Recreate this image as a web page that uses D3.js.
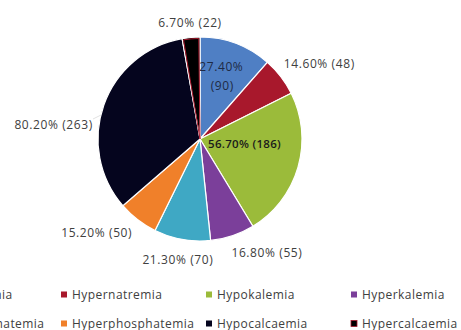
<!DOCTYPE html>
<html>
<head>
<meta charset="utf-8">
<script src="https://cdn.jsdelivr.net/npm/d3@7"></script>
<style>
  html, body { margin: 0; padding: 0; background: #fff; }
  svg { display: block; }
  text { font-family: "Open Sans", "DejaVu Sans", sans-serif; fill: #404040; }
</style>
</head>
<body>
<svg id="chart" width="461" height="330"></svg>
<script>
// Electrolyte disturbances: counts and printed percentages
const categories = ["Hyponatremia", "Hypernatremia", "Hypokalemia", "Hyperkalemia",
                    "Hypophosphatemia", "Hyperphosphatemia", "Hypocalcaemia", "Hypercalcaemia"];
const counts = [90, 48, 186, 55, 70, 50, 263, 22];
const percents = ["27.40%", "14.60%", "56.70%", "16.80%", "21.30%", "15.20%", "80.20%", "6.70%"];
const colors = ["#4f7fc4", "#a8182c", "#9bbb3a", "#7b3f9a", "#3fa8c4", "#f0802a", "#05051e", "#000000"];
const legendOrder = [
  ["Hyponatremia", "Hypernatremia", "Hypokalemia", "Hyperkalemia"],
  ["Hypophosphatemia", "Hyperphosphatemia", "Hypocalcaemia", "Hypercalcaemia"]
];

const svg = d3.select("#chart");
const cx = 200, cy = 139, r = 102;

const data = categories.map((c, i) => ({ name: c, value: counts[i], pct: percents[i], color: colors[i] }));

const pie = d3.pie().value(d => d.value).sort(null);
const arcs = pie(data);
const arc = d3.arc().innerRadius(0).outerRadius(r);

const g = svg.append("g").attr("transform", `translate(${cx},${cy})`);

g.selectAll("path.slice")
  .data(arcs)
  .join("path")
  .attr("class", "slice")
  .attr("d", arc)
  .attr("fill", d => d.data.color)
  .attr("stroke", "#fff")
  .attr("stroke-width", 1.2);

// thin red outline inside the Hypercalcaemia slice
const hc = arcs.find(a => a.data.name === "Hypercalcaemia");
g.append("path")
  .attr("d", d3.arc().innerRadius(0).outerRadius(r - 1.5)
    .startAngle(hc.startAngle + 0.012).endAngle(hc.endAngle - 0.012)())
  .attr("fill", "none")
  .attr("stroke", "#a8182c")
  .attr("stroke-width", 1);

// label placement per slice: radial factor plus a small nudge
const labelSpec = {
  "Hypernatremia":     { rad: 1.0,  anchor: "start",  dx: 3,  dy: -13 },
  "Hyperkalemia":      { rad: 1.12, anchor: "start",  dx: -5, dy: 6 },
  "Hypophosphatemia":  { rad: 1.18, anchor: "middle", dx: -1, dy: 2.5 },
  "Hyperphosphatemia": { rad: 1.12, anchor: "end",    dx: 2,  dy: 4 },
  "Hypocalcaemia":     { rad: 1.0,  anchor: "end",    dx: -11, dy: 20 },
  "Hypercalcaemia":    { rad: 1.12, anchor: "middle", dx: 0,  dy: -2 }
};

const labels = svg.append("g").attr("transform", `translate(${cx},${cy})`);
const fs = 12, ls = 0.6;

arcs.forEach(a => {
  const mid = (a.startAngle + a.endAngle) / 2;
  const txt = `${a.data.pct} (${a.data.value})`;
  if (a.data.name === "Hyponatremia") {
    const px = Math.sin(mid) * r * 0.62, py = -Math.cos(mid) * r * 0.62;
    const t = labels.append("text").attr("text-anchor", "middle")
      .attr("font-size", fs).attr("letter-spacing", ls).style("fill", "#1e2a44");
    t.append("tspan").attr("x", px - 1).attr("y", py - 9).text(a.data.pct);
    t.append("tspan").attr("x", px).attr("y", py + 10).text(`(${a.data.value})`);
  } else if (a.data.name === "Hypokalemia") {
    labels.append("text")
      .attr("x", 8).attr("y", 9)
      .attr("font-size", 11.5).attr("font-weight", 600).attr("letter-spacing", 0.3)
      .style("fill", "#1a1a1a")
      .text(txt);
  } else {
    const s = labelSpec[a.data.name];
    const lx = Math.sin(mid) * r * s.rad + s.dx, ly = -Math.cos(mid) * r * s.rad + s.dy;
    labels.append("text")
      .attr("x", lx).attr("y", ly + 4)
      .attr("text-anchor", s.anchor)
      .attr("font-size", fs).attr("letter-spacing", ls)
      .text(txt);
  }
});

// faint leader line for the Hypocalcaemia label
const hy = arcs.find(a => a.data.name === "Hypocalcaemia");
labels.append("line")
  .attr("x1", -107).attr("y1", -20)
  .attr("x2", Math.sin(hy.startAngle + 0.95) * r).attr("y2", -Math.cos(hy.startAngle + 0.95) * r)
  .attr("stroke", "#d9d9d9").attr("stroke-width", 0.8);

// legend: two rows of four entries
const colX = d3.scalePoint().domain(d3.range(4)).range([-73, 362]);
const rowY = d3.scalePoint().domain([0, 1]).range([295, 324]);
const colorOf = Object.fromEntries(data.map(d => [d.name, d.color]));

const legend = svg.append("g");
legendOrder.forEach((row, ri) => {
  row.forEach((name, ci) => {
    const x = colX(ci), y = rowY(ri);
    legend.append("rect")
      .attr("x", x - 11).attr("y", y - 3.5)
      .attr("width", 6).attr("height", 6)
      .attr("fill", colorOf[name])
      .attr("stroke", name === "Hypercalcaemia" ? "#a8182c" : "none")
      .attr("stroke-width", 0.8);
    legend.append("text")
      .attr("x", x).attr("y", y + 4)
      .attr("font-size", 12)
      .attr("letter-spacing", 0.45)
      .text(name);
  });
});
</script>
</body>
</html>
